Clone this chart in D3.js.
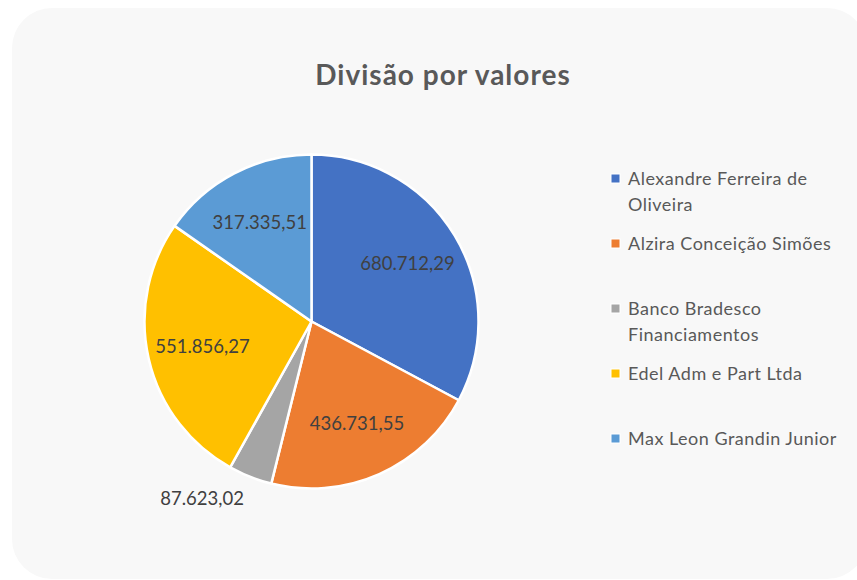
<!DOCTYPE html>
<html>
<head>
<meta charset="utf-8">
<script src="https://cdn.jsdelivr.net/npm/d3@7"></script>
<style>
  html, body { margin: 0; padding: 0; background: #fff; }
  svg { display: block; }
</style>
</head>
<body>
<svg id="chart" width="857" height="580"></svg>
<script>
// dados
const names = [
  'Alexandre Ferreira de Oliveira',
  'Alzira Conceição Simões',
  'Banco Bradesco Financiamentos',
  'Edel Adm e Part Ltda',
  'Max Leon Grandin Junior'
];
const values = [680712.29, 436731.55, 87623.02, 551856.27, 317335.51];
const colors = ['#4472C4', '#ED7D31', '#A5A5A5', '#FFC000', '#5B9BD5'];
const title = 'Divisão por valores';

const br = d3.formatLocale({ decimal: ',', thousands: '.', grouping: [3], currency: ['R$', ''] });
const fmt = br.format(',.2f');

const svg = d3.select('#chart');
const font = 'Lato, "Open Sans", sans-serif';

// fundo
svg.append('rect')
  .attr('x', 12).attr('y', 8)
  .attr('width', 855).attr('height', 571)
  .attr('rx', 40).attr('ry', 40)
  .attr('fill', '#f8f8f8');

svg.append('text')
  .attr('x', 443).attr('y', 85)
  .attr('text-anchor', 'middle')
  .attr('font-family', font)
  .attr('font-weight', 'bold')
  .attr('font-size', 28)
  .attr('letter-spacing', 1)
  .attr('fill', '#595959')
  .text(title);

// pizza
const radius = 167;
const g = svg.append('g').attr('transform', 'translate(311.5,321.5)');
const data = names.map((n, i) => ({ name: n, value: values[i], color: colors[i] }));
const pie = d3.pie().sort(null).value(d => d.value);
const arcs = pie(data);
const arc = d3.arc().innerRadius(0).outerRadius(radius);
const arcLabel = d3.arc().innerRadius(radius * 0.67).outerRadius(radius * 0.67);
const arcOut = d3.arc().innerRadius(radius * 1.2).outerRadius(radius * 1.2);

g.selectAll('path')
  .data(arcs)
  .enter().append('path')
  .attr('d', arc)
  .attr('fill', d => d.data.color)
  .attr('stroke', '#fff')
  .attr('stroke-width', 2.5)
  .attr('stroke-linejoin', 'round');

g.selectAll('text.lbl')
  .data(arcs)
  .enter().append('text')
  .attr('class', 'lbl')
  .attr('font-family', font)
  .attr('font-size', 18.5)
  .attr('fill', '#404040')
  .attr('dy', '0.35em')
  .each(function (d) {
    const small = (d.endAngle - d.startAngle) < 0.4;
    const p = small ? arcOut.centroid(d) : arcLabel.centroid(d);
    d3.select(this)
      .attr('text-anchor', small ? 'end' : 'middle')
      .attr('transform', `translate(${p[0] + (small ? 6 : 0)},${p[1] - (small ? 9 : 0)})`);
  })
  .text(d => fmt(d.data.value));

// legenda
const legend = svg.append('g').attr('transform', 'translate(611,179)');
const item = legend.selectAll('g')
  .data(data)
  .enter().append('g')
  .attr('transform', (d, i) => `translate(0,${i * 65})`);

item.append('rect')
  .attr('x', 0).attr('y', -5)
  .attr('width', 9).attr('height', 9)
  .attr('fill', d => d.color)
  .attr('stroke', '#fff')
  .attr('stroke-width', 1);

item.append('text')
  .attr('x', 17)
  .attr('y', 0)
  .attr('font-family', font)
  .attr('font-size', 18)
  .attr('letter-spacing', 0.5)
  .attr('fill', '#595959')
  .each(function (d) {
    const t = d3.select(this);
    const words = d.name.split(' ');
    let line = [];
    let tspan = t.append('tspan').attr('x', 17).attr('dy', '0.35em');
    words.forEach(w => {
      line.push(w);
      tspan.text(line.join(' '));
      if (tspan.node().getComputedTextLength() > 222 && line.length > 1) {
        line.pop();
        tspan.text(line.join(' '));
        line = [w];
        tspan = t.append('tspan').attr('x', 17).attr('dy', '26px').text(w);
      }
    });
  });
</script>
</body>
</html>
